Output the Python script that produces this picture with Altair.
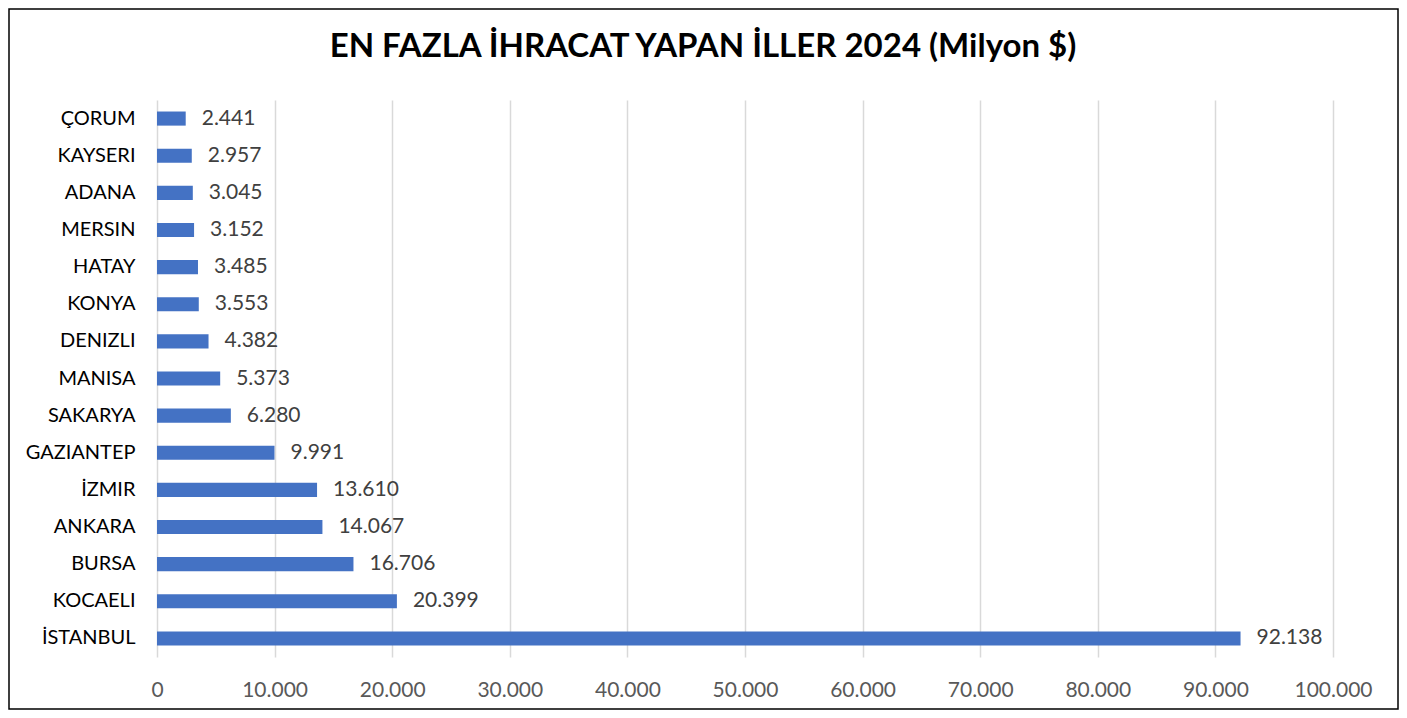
import altair as alt
import pandas as pd

provinces = ["ÇORUM", "KAYSERI", "ADANA", "MERSIN", "HATAY", "KONYA", "DENIZLI",
             "MANISA", "SAKARYA", "GAZIANTEP", "İZMIR", "ANKARA", "BURSA", "KOCAELI", "İSTANBUL"]
exports = [2441, 2957, 3045, 3152, 3485, 3553, 4382, 5373, 6280, 9991, 13610, 14067, 16706, 20399, 92138]
x_ticks = [0, 10000, 20000, 30000, 40000, 50000, 60000, 70000, 80000, 90000, 100000]
title_text = "EN FAZLA İHRACAT YAPAN İLLER 2024 (Milyon $)"

df = pd.DataFrame({"il": provinces, "deger": exports})

FONT = "Lato"
W, H = 1176, 557
PL, PT, PR, PB = 149, 92, 66, 53

base = alt.Chart(df).transform_calculate(
    lab="replace(format(datum.deger, ','), ',', '.')"
)

x_enc = alt.X("deger:Q",
              scale=alt.Scale(domain=[0, 100000], nice=False),
              axis=alt.Axis(values=x_ticks, title=None, grid=True, gridColor="#d9d9d9",
                            gridWidth=1.5, domain=False, ticks=False, labelFlush=False,
                            labelExpr="replace(format(datum.value, ','), ',', '.')",
                            labelFont=FONT, labelFontSize=21, labelColor="#595959",
                            labelPadding=22))
y_enc = alt.Y("il:N", sort=provinces,
              scale=alt.Scale(paddingInner=0.62, paddingOuter=0.31),
              axis=alt.Axis(title=None, domain=False, ticks=False, labelFont=FONT,
                            labelFontSize=20, labelColor="#000000", labelPadding=22))

bars = base.mark_bar(color="#4472C4").encode(x=x_enc, y=y_enc)

labels = base.mark_text(align="left", baseline="middle", dx=16, font=FONT,
                        fontSize=21, color="#404040").encode(
    x="deger:Q", y=alt.Y("il:N", sort=provinces), text="lab:N")

title = alt.Chart(pd.DataFrame({"t": [title_text]})).mark_text(
    font=FONT, fontSize=33, fontWeight="bold", color="#000000",
    align="center", baseline="middle").encode(
    text="t:N", x=alt.value(546), y=alt.value(-53))

border = alt.Chart(pd.DataFrame({"a": [0]})).mark_rect(
    fill=None, fillOpacity=0, stroke="#000000", strokeWidth=1.5).encode(
    x=alt.value(-PL + 1), x2=alt.value(W + PR - 1),
    y=alt.value(-PT + 1), y2=alt.value(H + PB - 1))

chart = alt.layer(bars, labels, title, border).properties(
    width=W, height=H,
    autosize=alt.AutoSizeParams(type="none"),
    padding={"left": PL, "top": PT, "right": PR, "bottom": PB},
    background="white",
).configure_view(stroke=None)

chart.save("out.html", embed_options={"renderer": "svg", "actions": False})
